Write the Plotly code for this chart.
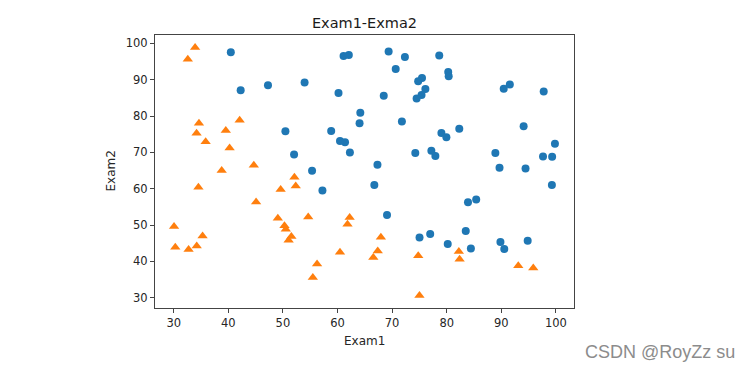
import plotly.graph_objects as go

exam1 = [34.62365962451697, 30.28671076822607, 35.84740876993872, 60.18259938620976, 79.0327360507101,
         45.08327747668339, 61.10666453684766, 75.02474556738889, 76.09878670226257, 84.43281996120035,
         95.86155507093572, 75.01365838958247, 82.30705337399482, 69.36458875970939, 39.53833914367223,
         53.9710521485623, 69.07014406283025, 67.94685547711617, 70.66150955499435, 76.97878372747498,
         67.37202754570876, 89.67677575072079, 50.534788289883, 34.21206097786789, 77.9240914545704,
         62.27101367004632, 80.1901807509566, 93.114388797442, 61.83020602312595, 38.78580379679423,
         61.379289447425, 85.40451939411645, 52.10797973193984, 52.04540476831827, 40.23689373545111,
         54.63510555424817, 33.91550010906887, 64.17698887494485, 74.78925295941542, 34.1836400264419,
         83.90239366249155, 51.54772026906181, 94.44336776917852, 82.36875375713919, 51.04775177128865,
         62.22267576120188, 77.19303492601364, 97.77159928000232, 62.07306379667647, 91.56497449807442,
         79.94481794066932, 99.2725269292572, 90.54671411399852, 34.52451385320009, 50.2864961189907,
         49.58667721632031, 97.64563396007767, 32.57720016809309, 74.24869136721598, 71.79646205863379,
         75.3956114656803, 35.28611281526193, 56.25381749711624, 30.05882244669796, 44.66826172480893,
         66.56089447242954, 40.45755098375164, 49.07256321908844, 80.27957401466998, 66.74671856944039,
         32.72283304060323, 64.0393204150601, 72.34649422579923, 60.45788573918959, 58.84095621726802,
         99.82785779692128, 47.26426910848174, 50.45815980285988, 60.45555629271532, 82.22666157785568,
         88.9138964166533, 94.83450672430196, 67.31925746917527, 57.23870631569862, 80.36675600171273,
         68.46852178591112, 42.0754545384731, 75.47770200533905, 78.63542434898018, 52.34800398794107,
         94.09433112516793, 90.44855097096364, 55.48216114069585, 74.49269241843041, 89.84580670720979,
         83.48916274498238, 42.2617008099817, 99.31500880510394, 55.34001756003703, 74.77589300092767]

exam2 = [78.0246928153624, 43.89499752400101, 72.90219802708364, 86.30855209546826, 75.3443764369103,
         56.3163717815305, 96.51142588489624, 46.55401354116538, 87.42056971926803, 43.53339331072109,
         38.22527805795094, 30.60326323428011, 76.48196330235604, 97.71869196188608, 76.03681085115882,
         89.20735013750205, 52.74046973016765, 46.67857410673128, 92.92713789364831, 47.57596364975532,
         42.83843832029179, 65.79936592745237, 48.85581152764205, 44.20952859866288, 68.9723599933059,
         69.95445795447587, 44.82162893218353, 38.80067033713209, 50.25610789244621, 64.99568095539578,
         72.80788731317097, 57.05198397627122, 63.12762376881715, 69.43286012045222, 71.16774802184875,
         52.21388588061123, 98.86943574220611, 80.90806058670817, 41.57341522824434, 75.2377203360134,
         56.30804621605327, 46.85629026349976, 65.56892160559052, 40.61825515970618, 45.82270145776001,
         52.06099194836679, 70.45820000180959, 86.7278223300282, 96.76882412413983, 88.69629254546599,
         74.16311935043758, 60.99903099844988, 43.39060180650027, 60.39634245837173, 49.80453881323059,
         59.80895099453265, 68.86157272420604, 95.59854761387875, 69.82457122657193, 78.45356224515052,
         85.75993667331619, 47.02051394723416, 39.26147251058019, 49.59297386723685, 66.45008614558913,
         41.09209807936973, 97.53518548909936, 51.88321182073966, 92.11606081344084, 60.99139402740988,
         43.30717306430063, 78.03168802018232, 96.22759296761404, 73.09499809758037, 75.85844831279042,
         72.36925193383885, 88.47586499559782, 75.80985952982456, 42.50840943572217, 42.71987853716458,
         69.80378889835472, 45.69430680250754, 66.58935317747915, 59.51428198012956, 90.96014789746954,
         85.59430710452014, 78.84478600148043, 90.42453899753964, 96.64742716885644, 60.76950525602592,
         77.15910509073893, 87.50879176730098, 35.57070347228866, 84.84513684930135, 45.35828361091658,
         48.38028579728175, 87.10385094025457, 68.77540947206617, 64.9319380069486, 89.52981289513276]

admitted = [0, 0, 0, 1, 1, 0, 1, 1, 1, 1,
            0, 0, 1, 1, 0, 1, 1, 0, 1, 1,
            0, 1, 0, 0, 1, 1, 1, 0, 0, 0,
            1, 1, 0, 1, 0, 0, 0, 1, 0, 0,
            1, 0, 1, 0, 0, 0, 1, 1, 1, 1,
            1, 1, 1, 0, 0, 0, 1, 0, 1, 1,
            1, 0, 0, 0, 0, 0, 1, 0, 1, 1,
            0, 1, 1, 1, 1, 1, 1, 1, 0, 0,
            1, 1, 1, 1, 1, 1, 0, 1, 1, 0,
            1, 1, 0, 1, 1, 1, 1, 1, 1, 1]

xticks = [30, 40, 50, 60, 70, 80, 90, 100]
yticks = [30, 40, 50, 60, 70, 80, 90, 100]

pos_x = [a for a, l in zip(exam1, admitted) if l == 1]
pos_y = [b for b, l in zip(exam2, admitted) if l == 1]
neg_x = [a for a, l in zip(exam1, admitted) if l == 0]
neg_y = [b for b, l in zip(exam2, admitted) if l == 0]

FONT = "DejaVu Sans"
L, R, T, B = 155, 574, 35, 308
W, H = 749, 371
PW, PH = R - L, B - T

fig = go.Figure()
fig.add_trace(go.Scatter(x=pos_x, y=pos_y, mode="markers",
                         marker=dict(symbol="circle", size=8, color="#1f77b4", line=dict(width=0)),
                         name="Admitted"))
fig.add_trace(go.Scatter(x=neg_x, y=neg_y, mode="markers",
                         marker=dict(symbol="triangle-up", size=9, color="#ff7f0e", line=dict(width=0)),
                         name="Not admitted"))

axis_common = dict(showgrid=False, zeroline=False, showline=True, mirror=True,
                   linecolor="#444", linewidth=1, ticks="outside", ticklen=4,
                   tickcolor="#444", tickwidth=1, automargin=False,
                   tickfont=dict(family=FONT, size=11.5, color="#262626"))

fig.update_layout(
    width=W, height=H,
    margin=dict(l=L, r=W - R, t=T, b=H - B, autoexpand=False),
    paper_bgcolor="white", plot_bgcolor="white",
    showlegend=False,
    title=dict(text="Exam1-Exma2", x=(L + R) / 2 / W, xanchor="center",
               y=1 - 23 / H, yanchor="middle",
               font=dict(family=FONT, size=14.5, color="#1a1a1a")),
    xaxis=dict(range=[26.57, 103.32], tickvals=xticks, **axis_common),
    yaxis=dict(range=[27.19, 102.28], tickvals=yticks, **axis_common),
)

fig.add_annotation(text="Exam1", xref="paper", yref="paper",
                   x=0.5, y=-(341 - B) / PH, xanchor="center", yanchor="middle",
                   showarrow=False, font=dict(family=FONT, size=12, color="#262626"))
fig.add_annotation(text="Exam2", xref="paper", yref="paper", textangle=-90,
                   x=-(L - 110) / PW, y=0.5, xanchor="center", yanchor="middle",
                   showarrow=False, font=dict(family=FONT, size=12, color="#262626"))

fig.add_annotation(text="CSDN @RoyZz su", xref="paper", yref="paper",
                   x=(737 - L) / PW, y=-(352 - B) / PH,
                   xanchor="right", yanchor="middle", showarrow=False,
                   font=dict(family="Liberation Sans", size=18, color="#8c8c8c"))

fig.write_html("out.html", config={"displayModeBar": False},
               post_script="document.body.style.margin='0';document.body.style.overflow='hidden';")
